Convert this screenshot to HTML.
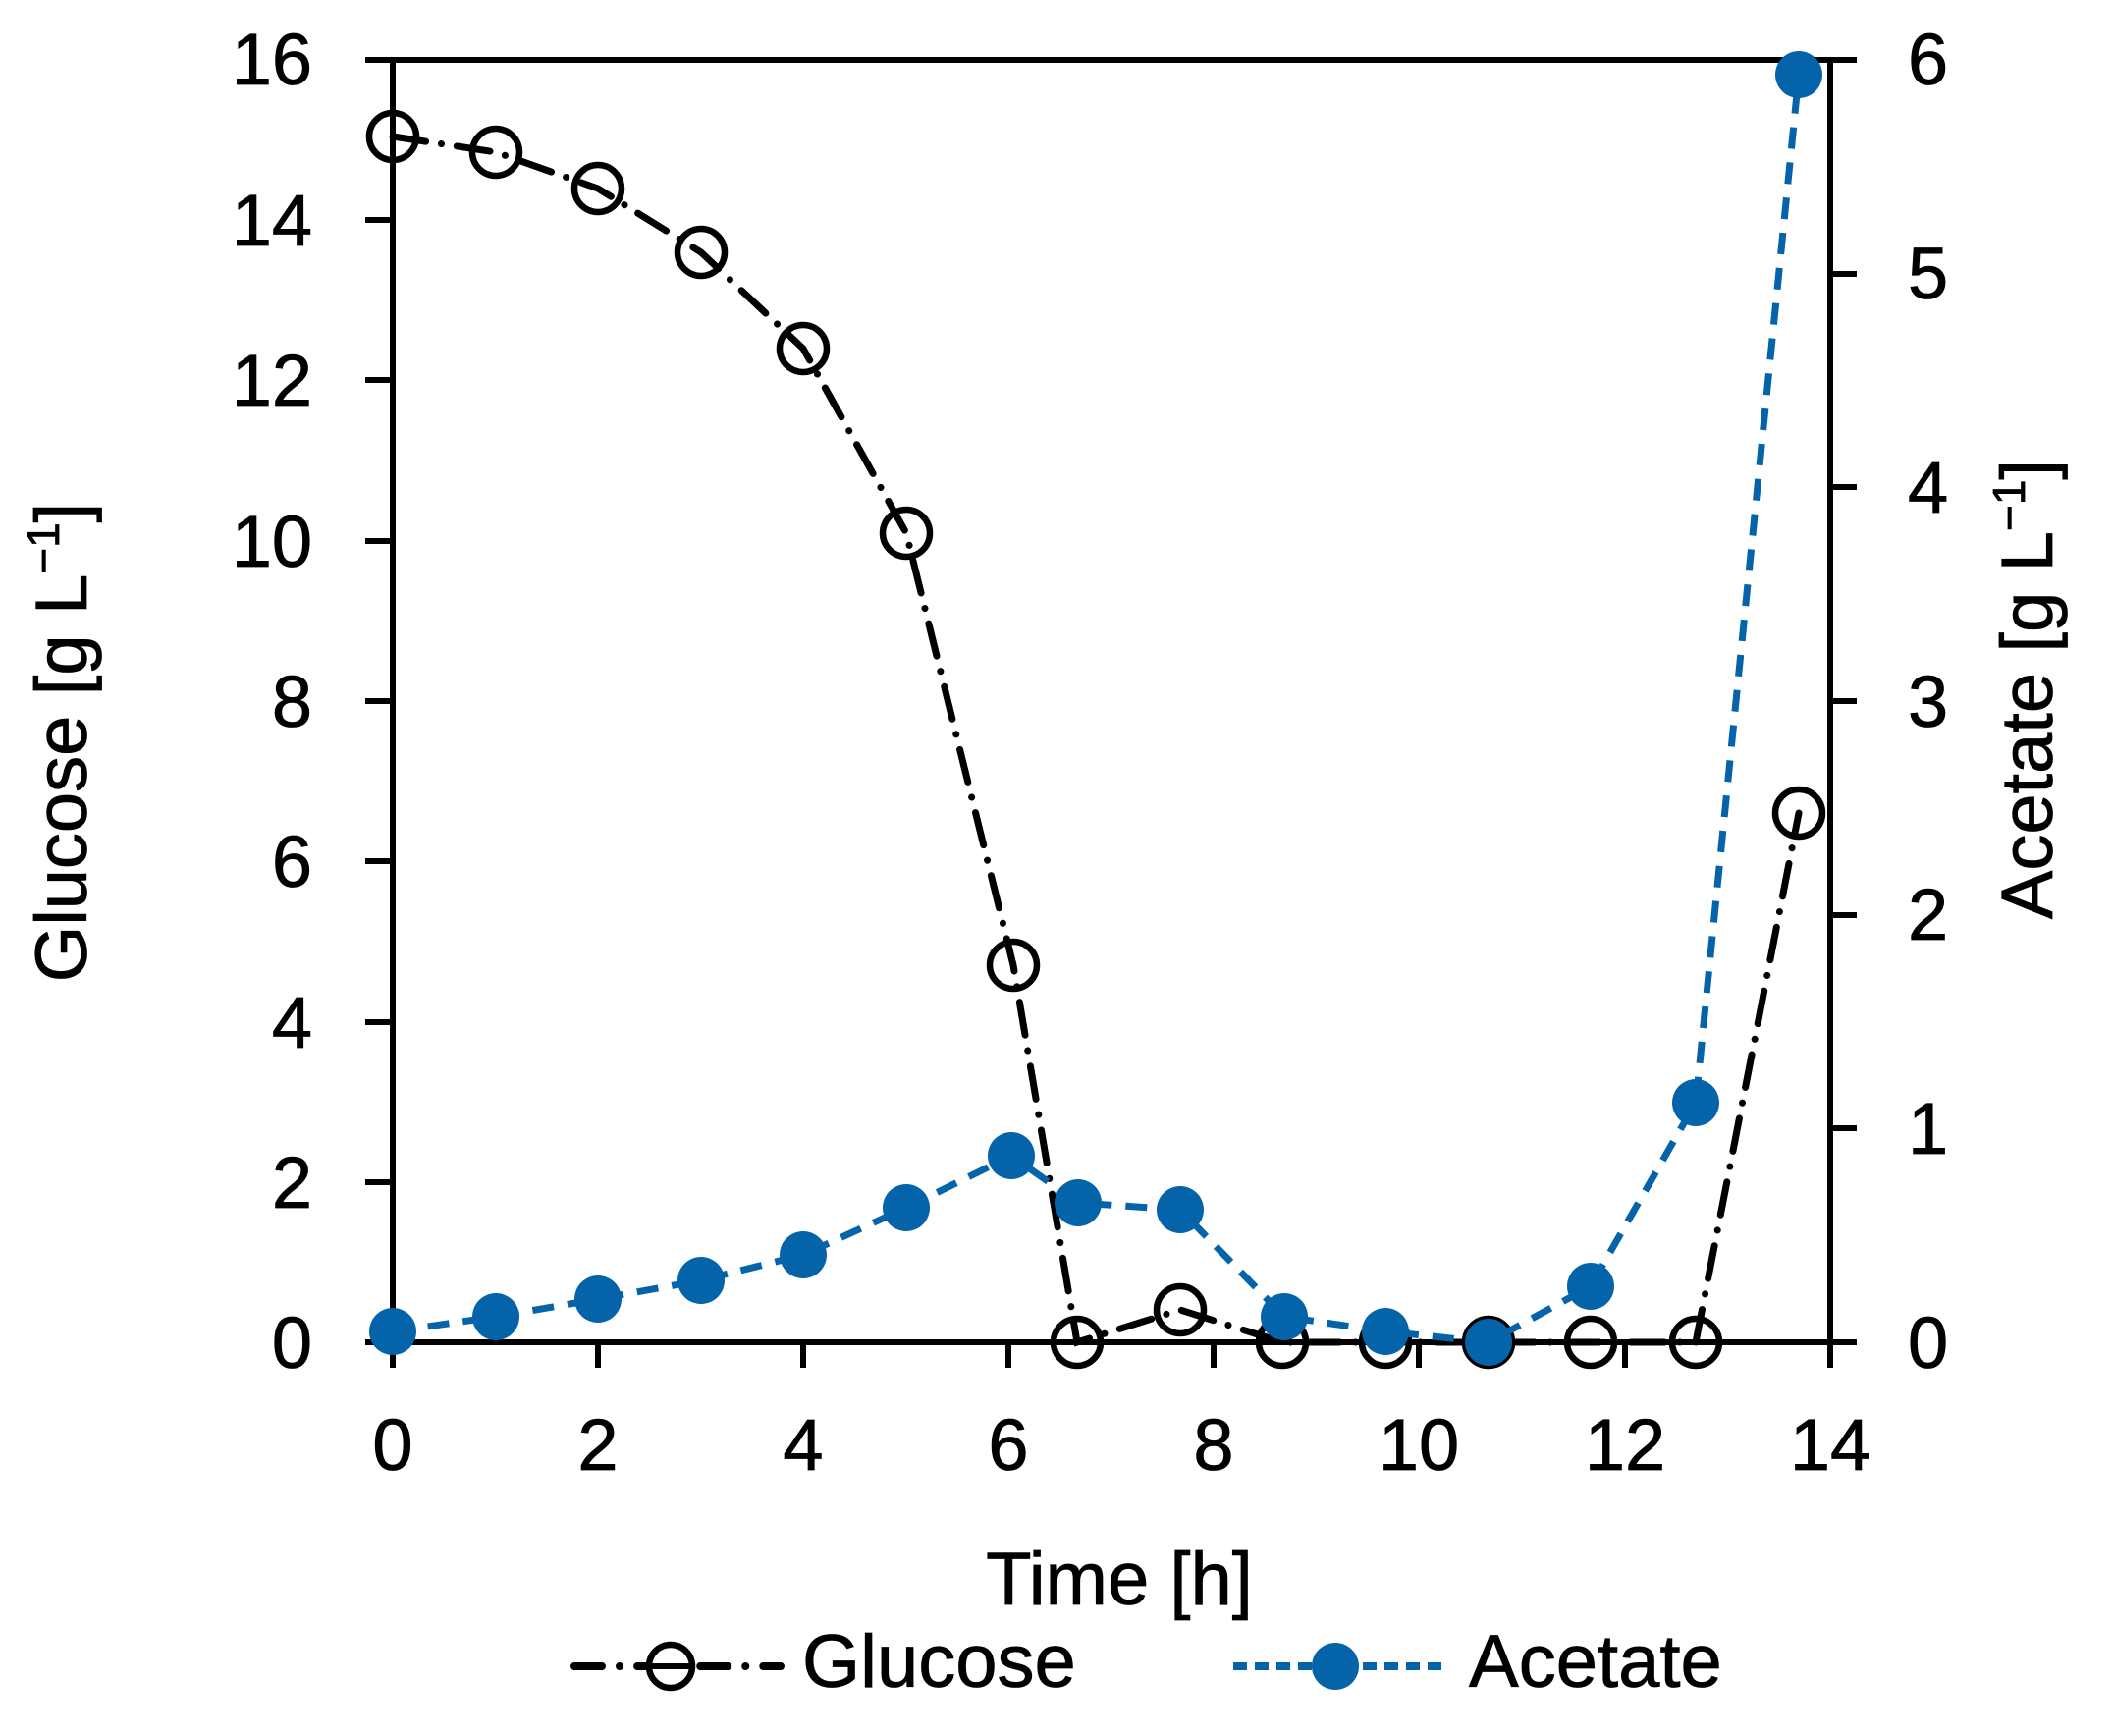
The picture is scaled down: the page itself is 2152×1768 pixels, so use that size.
<!DOCTYPE html>
<html><head><meta charset="utf-8"><style>
html,body{margin:0;padding:0;background:#fff;}
svg{display:block;}
text{font-family:"Liberation Sans",sans-serif;fill:#000;stroke:#000;stroke-width:0.8;}
</style></head><body>
<svg width="2152" height="1768" viewBox="0 0 2152 1768" xmlns="http://www.w3.org/2000/svg">
<g stroke="#000" stroke-width="6" fill="none">
<line x1="372" y1="61" x2="1891" y2="61"/>
<line x1="372" y1="1367" x2="1891" y2="1367"/>
<line x1="400" y1="58" x2="400" y2="1393"/>
<line x1="1864" y1="58" x2="1864" y2="1370"/>
<line x1="372" y1="224" x2="400" y2="224"/>
<line x1="372" y1="387" x2="400" y2="387"/>
<line x1="372" y1="551" x2="400" y2="551"/>
<line x1="372" y1="714" x2="400" y2="714"/>
<line x1="372" y1="877" x2="400" y2="877"/>
<line x1="372" y1="1041" x2="400" y2="1041"/>
<line x1="372" y1="1204" x2="400" y2="1204"/>
<line x1="1864" y1="279" x2="1891" y2="279"/>
<line x1="1864" y1="496" x2="1891" y2="496"/>
<line x1="1864" y1="714" x2="1891" y2="714"/>
<line x1="1864" y1="932" x2="1891" y2="932"/>
<line x1="1864" y1="1149" x2="1891" y2="1149"/>
<line x1="609" y1="1367" x2="609" y2="1393"/>
<line x1="818" y1="1367" x2="818" y2="1393"/>
<line x1="1027" y1="1367" x2="1027" y2="1393"/>
<line x1="1236" y1="1367" x2="1236" y2="1393"/>
<line x1="1445" y1="1367" x2="1445" y2="1393"/>
<line x1="1655" y1="1367" x2="1655" y2="1393"/>
<line x1="1864" y1="1367" x2="1864" y2="1393"/>
</g>
<g font-size="74" text-anchor="end">
<text x="318" y="86">16</text>
<text x="318" y="250">14</text>
<text x="318" y="413">12</text>
<text x="318" y="577">10</text>
<text x="318" y="740">8</text>
<text x="318" y="903">6</text>
<text x="318" y="1067">4</text>
<text x="318" y="1230">2</text>
<text x="318" y="1393">0</text>
</g>
<g font-size="74" text-anchor="start">
<text x="1943" y="86">6</text>
<text x="1943" y="304">5</text>
<text x="1943" y="522">4</text>
<text x="1943" y="740">3</text>
<text x="1943" y="957">2</text>
<text x="1943" y="1175">1</text>
<text x="1943" y="1393">0</text>
</g>
<g font-size="74" text-anchor="middle">
<text x="400" y="1497">0</text>
<text x="609" y="1497">2</text>
<text x="818" y="1497">4</text>
<text x="1027" y="1497">6</text>
<text x="1236" y="1497">8</text>
<text x="1445" y="1497">10</text>
<text x="1655" y="1497">12</text>
<text x="1864" y="1497">14</text>
<text x="1140" y="1634" font-size="76">Time [h]</text>
</g>
<text font-size="74" text-anchor="middle" transform="translate(88,756) rotate(-90)">Glucose [g L<tspan font-size="46" dy="-28">−1</tspan><tspan dy="28">]</tspan></text>
<text font-size="74" text-anchor="middle" transform="translate(2090,702) rotate(-90)">Acetate [g L<tspan font-size="46" dy="-28">−1</tspan><tspan dy="28">]</tspan></text>

<polyline fill="none" stroke="#000" stroke-width="7" stroke-dasharray="34 16 0.1 16" stroke-linecap="round"
 points="400,139 505,155 609,192 714,257 818,355 923,543 1032,983 1097,1367 1202,1334 1306,1367 1411,1367 1516,1367 1620,1367 1727,1367 1832,828"/>
<g fill="none" stroke="#000" stroke-width="6.5">
<circle cx="400" cy="139" r="24"/><circle cx="505" cy="155" r="24"/><circle cx="609" cy="192" r="24"/>
<circle cx="714" cy="257" r="24"/><circle cx="818" cy="355" r="24"/><circle cx="923" cy="543" r="24"/>
<circle cx="1032" cy="983" r="24"/><circle cx="1097" cy="1367" r="24"/><circle cx="1202" cy="1334" r="24"/>
<circle cx="1306" cy="1367" r="24"/><circle cx="1411" cy="1367" r="24"/><circle cx="1516" cy="1367" r="24"/>
<circle cx="1620" cy="1367" r="24"/><circle cx="1727" cy="1367" r="24"/><circle cx="1832" cy="828" r="24"/>
</g>
<polyline fill="none" stroke="#0563A9" stroke-width="7" stroke-dasharray="22 14"
 points="400,1356 505,1341 609,1323 714,1304 818,1278 923,1230 1030,1177 1098,1225 1202,1232 1308,1341 1411,1356 1516,1367 1620,1310 1727,1123 1832,76"/>
<g fill="#0563A9">
<circle cx="400" cy="1356" r="24"/><circle cx="505" cy="1341" r="24"/><circle cx="609" cy="1323" r="24"/>
<circle cx="714" cy="1304" r="24"/><circle cx="818" cy="1278" r="24"/><circle cx="923" cy="1230" r="24"/>
<circle cx="1030" cy="1177" r="24"/><circle cx="1098" cy="1225" r="24"/><circle cx="1202" cy="1232" r="24"/>
<circle cx="1308" cy="1341" r="24"/><circle cx="1411" cy="1356" r="24"/><circle cx="1516" cy="1367" r="24"/>
<circle cx="1620" cy="1310" r="24"/><circle cx="1727" cy="1123" r="24"/><circle cx="1832" cy="76" r="24"/>
</g>
<line x1="585" y1="1697" x2="795" y2="1697" stroke="#000" stroke-width="8" stroke-dasharray="28 18 0.1 18" stroke-linecap="round"/>
<circle cx="683" cy="1697" r="22" fill="#fff" stroke="#000" stroke-width="6.5"/>
<line x1="664" y1="1697" x2="702" y2="1697" stroke="#000" stroke-width="6"/>
<text x="817" y="1718" font-size="76">Glucose</text>
<line x1="1256" y1="1697" x2="1471" y2="1697" stroke="#0563A9" stroke-width="8" stroke-dasharray="14 8"/>
<circle cx="1360" cy="1697" r="24" fill="#0563A9"/>
<text x="1496" y="1718" font-size="76">Acetate</text>
</svg>
</body></html>
